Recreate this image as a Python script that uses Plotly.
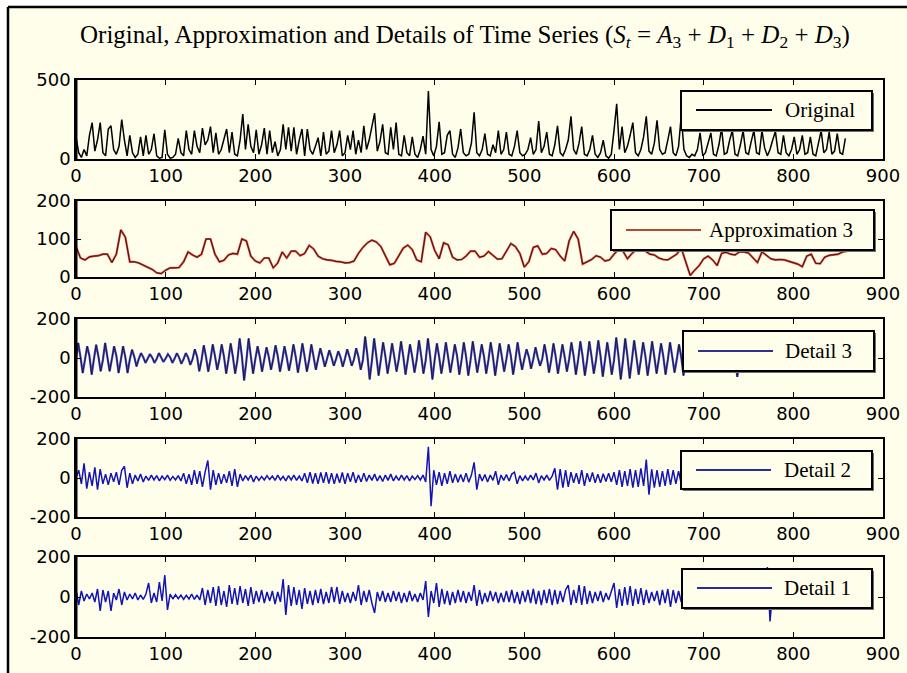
import plotly.graph_objects as go

# ---------------- data ----------------
X_TICKS = [0, 100, 200, 300, 400, 500, 600, 700, 800, 900]
STEP_ORIG = 3
original = [
    140, 40, 10, 60, 20, 150, 230, 50, 120, 230,
    40, 20, 190, 210, 60, 30, 80, 250, 120, 20,
    150, 40, 10, 30, 140, 20, 150, 30, 60, 160,
    20, 5, 10, 185, 30, 5, 10, 30, 130, 40,
    20, 180, 60, 30, 180, 80, 40, 195, 90, 120,
    205, 40, 165, 30, 60, 130, 190, 40, 170, 30,
    20, 120, 285, 60, 220, 80, 40, 185, 30, 90,
    195, 30, 180, 40, 110, 20, 60, 220, 60, 200,
    50, 200, 30, 120, 190, 20, 190, 60, 30, 80,
    135, 20, 170, 30, 50, 180, 40, 90, 180, 20,
    40, 150, 60, 180, 30, 120, 40, 210, 60, 120,
    200, 290, 50, 110, 220, 40, 30, 200, 60, 230,
    30, 20, 150, 40, 20, 140, 30, 10, 60, 145,
    30, 430, 60, 20, 80, 235, 30, 40, 150, 180,
    30, 10, 70, 190, 40, 20, 30, 100, 295, 40,
    20, 60, 160, 30, 20, 90, 40, 180, 30, 60,
    170, 30, 20, 80, 180, 40, 20, 30, 60, 135,
    30, 60, 240, 40, 80, 170, 30, 20, 90, 210,
    40, 20, 60, 120, 270, 60, 30, 100, 205, 30,
    20, 60, 150, 30, 10, 40, 120, 20, 5, 30,
    180, 350, 60, 205, 40, 80, 150, 230, 40, 20,
    60, 140, 270, 50, 30, 100, 245, 60, 30, 40,
    120, 205, 40, 20, 80, 275, 60, 20, 10, 30,
    20, 60, 165, 20, 40, 100, 165, 30, 20, 90,
    195, 30, 40, 120, 180, 30, 20, 90, 180, 40,
    30, 110, 180, 40, 30, 180, 70, 20, 60, 120,
    175, 40, 30, 150, 40, 20, 60, 140, 30, 60,
    150, 30, 40, 140, 30, 20, 90, 180, 40, 60,
    170, 30, 50, 160, 40, 30, 130,
]

STEP_A3 = 5
approx3 = [
    80, 50, 45, 53, 55, 56, 60, 60, 38, 60,
    124, 105, 40, 40, 37, 32, 26, 20, 11, 9,
    18, 24, 24, 25, 40, 66, 58, 52, 60, 100,
    100, 60, 40, 44, 58, 62, 60, 100, 95, 55,
    42, 37, 50, 50, 24, 37, 66, 50, 68, 68,
    56, 62, 83, 74, 55, 48, 45, 44, 41, 40,
    37, 38, 42, 62, 78, 90, 97, 92, 80, 56,
    32, 36, 55, 76, 84, 72, 45, 40, 118, 106,
    70, 48, 90, 85, 52, 45, 46, 55, 68, 68,
    52, 55, 67, 58, 47, 48, 70, 88, 80, 62,
    26, 40, 78, 82, 60, 62, 75, 72, 55, 42,
    95, 120, 100, 34, 40, 46, 56, 52, 42, 45,
    60, 72, 68, 48, 62, 72, 70, 68, 60, 58,
    50, 46, 45, 52, 60, 76, 40, 4, 18, 30,
    48, 55, 45, 30, 62, 65, 60, 58, 66, 66,
    63, 50, 38, 66, 58, 48, 45, 46, 45, 42,
    38, 34, 27, 55, 60, 36, 35, 52, 57, 58,
    60, 66, 68,
]

STEP_D3 = 2.5
detail3 = [
    -10, 77, 5, -77, -8, 60, 10, -85, -5, 68, 8, -68, -10, 77, 5, -68,
    -6, 60, 12, -77, -10, 60, 5, -77, -8, 43, 6, -43, -5, 25, 4, -25,
    -3, 20, 2, -25, -4, 25, 3, -20, -2, 20, 4, -25, -3, 25, 2, -30,
    -5, 25, 3, -35, -6, 45, 8, -68, -10, 65, 6, -70, -8, 70, 10, -60,
    -5, 70, 8, -80, -10, 75, 5, -80, -12, 100, 10, -115, -15, 100, 8, -80,
    -6, 60, 5, -70, -8, 55, 6, -60, -5, 65, 10, -70, -10, 60, 4, -65,
    -6, 70, 8, -75, -8, 75, 6, -70, -10, 70, 5, -60, -5, 50, 6, -45,
    -4, 40, 3, -40, -6, 35, 4, -45, -3, 45, 5, -40, -8, 50, 6, -60,
    -10, 110, 12, -110, -15, 100, 8, -90, -8, 80, 10, -80, -10, 75, 6, -70,
    -6, 85, 8, -85, -10, 70, 5, -75, -8, 90, 10, -80, -12, 100, 8, -110,
    -10, 75, 6, -80, -8, 80, 5, -75, -6, 70, 10, -85, -10, 80, 8, -90,
    -12, 85, 6, -75, -5, 70, 8, -80, -10, 80, 6, -90, -8, 75, 5, -70,
    -6, 70, 10, -85, -10, 80, 4, -60, -5, 45, 6, -55, -6, 55, 3, -40,
    -4, 70, 8, -75, -10, 75, 6, -80, -8, 70, 5, -70, -6, 80, 10, -85,
    -10, 85, 8, -90, -12, 85, 6, -80, -8, 90, 10, -95, -10, 80, 5, -85,
    -12, 105, 10, -110, -15, 100, 8, -105, -10, 90, 6, -85, -8, 80, 10, -90,
    -10, 85, 5, -80, -6, 75, 8, -85, -10, 80, 6, -75, -8, 70, 5, -90,
    -6, 50, 4, -50, -5, 40, 3, -45, -4, 45, 5, -40, -6, 40, 4, -50,
    -3, 30, 2, -35, -5, 40, 6, -97, -8, 35, 4, -40, -4, 40, 3, -45,
    -5, 45, 6, -50, -4, 40, 3, -45, -3, 35, 4, -40, -5, 40, 3, -45,
    -4, 45, 5, -50, -6, 40, 4, -45, -3, 35, 2, -40, -5, 40, 6, -50,
    -6, 45, 5, -68, -4, 30, 3, -30, 0,
]

STEP_D = 3
detail2 = [
    0, 40, -30, 75, -55, 30, -40, 55, -60, 45,
    -30, 20, -35, 25, -20, 30, -35, 40, 60, -50,
    25, -30, 15, -15, 20, -20, 10, -12, 15, -10,
    12, -15, 10, -8, 15, -12, 8, -10, 12, -15,
    25, -30, 20, -35, 40, -30, 35, -45, 30, 90,
    -60, 40, -35, 25, -30, 20, -25, 35, -40, 45,
    -45, 20, -15, 12, -10, 15, -20, 10, -12, 8,
    -10, 12, -8, 10, -12, 15, -10, 8, -15, 12,
    -10, 15, -12, 10, -15, 25, -25, 30, -28, 25,
    -30, 28, -25, 30, -28, 25, -30, 22, -25, 28,
    -30, 25, -20, 30, -25, 15, -20, 25, -18, 15,
    -12, 20, -15, 12, -18, 15, -12, 20, -15, 10,
    -12, 15, -10, 12, -15, 10, -8, 12, -10, 15,
    -20, 160, -145, 40, -35, 30, -40, 25, -30, 35,
    -25, 20, -22, 18, -20, 25, -22, 15, 80, -60,
    20, -15, 18, -20, 15, -12, 35, -35, 15, -12,
    18, -15, 20, 30, -30, 12, -15, 10, -12, 15,
    -10, 25, -25, 12, -10, 15, -12, 10, 50, -60,
    45, -50, 40, -45, 30, -25, 25, -30, 40, -40,
    25, -20, 28, -25, 20, -25, 22, -18, 25, -20,
    30, -35, 40, -45, 35, -40, 45, -50, 40, -45,
    50, -40, 94, -86, 45, -50, 40, -45, 35, -40,
    45, -35, 40, -30, 35, -30, 25, -20, 30, -25,
    20, -25, 15, -20, 25, -15, 20, -18, 15, -20,
    25, -20, 18, -15, 20, -25, 15, -20, 25, -18,
    20, -15, 18, -22, 25, -20, 15, -18, 20, -15,
    18, -20, 25, -15, 20, -18, 15, -20, 18, -15,
    20, -25, 18, -20, 15, -18, 22, -20, 18, -15,
    20, -18, 15, -20, 18, -15, 10,
]

detail1 = [
    40, -40, 30, -20, 15, -10, 20, -25, 40, -70,
    35, -25, 30, -70, 20, -15, 40, -40, 25, -15,
    15, -10, 20, -15, 10, -12, 15, 70, -30, 20,
    -25, 75, -20, 110, -65, 15, -10, 12, -8, 10,
    -12, 8, -10, 15, -12, 10, -15, 45, -40, 35,
    -30, 50, -45, 55, -40, 30, -50, 60, -35, 45,
    -40, 55, -30, 40, -45, 50, -35, 30, -25, 35,
    -30, 25, -20, 30, -35, 25, -25, 90, -90, 60,
    -45, 50, -40, 35, -60, 45, -35, 30, -40, 35,
    -30, 40, -35, 25, -30, 50, -25, 50, -35, 30,
    -25, 20, -30, 25, -20, 60, -40, 30, -25, 35,
    -30, -80, 25, -20, 30, -25, 20, -25, 30, -20,
    25, -30, 20, -25, 30, -20, 15, -25, 20, -15,
    80, -100, 30, -30, 70, -50, 40, -35, 30, -40,
    25, -30, 35, -25, 30, -30, 25, -20, 60, -45,
    35, -35, 20, -25, 30, -20, 25, -30, 20, -25,
    30, -25, 35, -30, 25, -35, 30, -25, 35, -30,
    40, -35, 30, -40, 35, -30, 40, -40, 35, -35,
    30, -25, 35, 60, -40, 35, -30, 60, -40, 55,
    -35, 30, -30, 25, -20, 30, -25, 20, -15, 25,
    70, -55, 40, -45, 50, -40, 55, -45, 40, -35,
    45, -40, 35, -30, 25, -20, 30, -40, 35, -30,
    40, -50, 35, -30, 30, -25, 20, -15, 25, -20,
    30, -25, 20, -30, 25, -20, 30, -25, 20, -25,
    30, -40, 25, -20, 30, -25, 20, -30, 25, -20,
    30, -25, 20, -25, 30, -20, 25, 150, -122, 30,
    -25, 20, -30, 25, -20, 30, -25, 20, -25, 30,
    -20, 25, -30, 20, -25, 30, -20, 25, -60, 30,
    -25, 20, -30, 25, -20, 15, -10,
]

TITLE = ("Original, Approximation and Details of Time Series "
         "(<i>S</i><sub><i>t</i></sub> = <i>A</i><sub>3</sub> + "
         "<i>D</i><sub>1</sub> + <i>D</i><sub>2</sub> + <i>D</i><sub>3</sub>)")
NAMES = ["Original", "Approximation 3", "Detail 3", "Detail 2", "Detail 1"]
Y_RANGES = [[0, 500], [0, 200], [-200, 200], [-200, 200], [-200, 200]]
Y_TICKS = [[0, 500], [0, 100, 200], [-200, 0, 200], [-200, 0, 200], [-200, 0, 200]]
Y_TICKTEXT = [["0", "500"], ["0", "100", "200"], ["-200", "0", "200"],
              ["-200", "0", "200"], ["-200", "0", "200"]]
X_TICKTEXT = [str(v) for v in X_TICKS]

# ---------------- layout geometry ----------------
W, H = 907, 673
L, R, T, B = 76, 24, 80, 36
PW, PH = W - L - R, H - T - B


def px(xp):
    return (xp - L) / PW


def py(yp):
    return (H - B - yp) / PH


PANELS = [(80, 159), (201, 277), (319, 397), (439, 517), (557, 637)]
LEG = [  # box x0,x1,y0,y1 ; line x0,x1,y ; text x
    (681, 872, 91, 130, 696, 772, 110, 783),
    (611, 874, 210, 250, 626, 701, 230, 707),
    (683, 874, 331, 371, 698, 773, 351, 783),
    (681, 872, 451, 489, 696, 771, 470, 782),
    (682, 872, 569, 608, 697, 772, 588, 782),
]
CREAM = "#fffeea"
LEG_COLORS = ["#000000", "#b04a3a", "#30308f", "#2a2aa0", "#2a2aa0"]

fig = go.Figure()


def xs(n, step):
    return [i * step for i in range(n)]


# panel 1
fig.add_trace(go.Scatter(x=xs(len(original), STEP_ORIG), y=original, mode="lines",
                         line=dict(color="black", width=1.5), xaxis="x", yaxis="y",
                         name=NAMES[0], showlegend=False))
# panel 2
fig.add_trace(go.Scatter(x=xs(len(approx3), STEP_A3), y=approx3, mode="lines",
                         line=dict(color="#e04a3a", width=2.2), xaxis="x2", yaxis="y2",
                         name=NAMES[1], showlegend=False, hoverinfo="skip"))
fig.add_trace(go.Scatter(x=xs(len(approx3), STEP_A3), y=approx3, mode="lines",
                         line=dict(color="#2a1010", width=0.9), xaxis="x2", yaxis="y2",
                         name=NAMES[1], showlegend=False))
# panel 3
fig.add_trace(go.Scatter(x=xs(len(detail3), STEP_D3), y=detail3, mode="lines",
                         line=dict(color="#4a4ad0", width=2.2), xaxis="x3", yaxis="y3",
                         name=NAMES[2], showlegend=False, hoverinfo="skip"))
fig.add_trace(go.Scatter(x=xs(len(detail3), STEP_D3), y=detail3, mode="lines",
                         line=dict(color="#141430", width=0.9), xaxis="x3", yaxis="y3",
                         name=NAMES[2], showlegend=False))
# panel 4, 5
fig.add_trace(go.Scatter(x=xs(len(detail2), STEP_D), y=detail2, mode="lines",
                         line=dict(color="#1414b4", width=1.5), xaxis="x4", yaxis="y4",
                         name=NAMES[3], showlegend=False))
fig.add_trace(go.Scatter(x=xs(len(detail1), STEP_D), y=detail1, mode="lines",
                         line=dict(color="#1414b4", width=1.5), xaxis="x5", yaxis="y5",
                         name=NAMES[4], showlegend=False))

font_ticks = dict(family="DejaVu Sans", size=18, color="black")
layout = dict(
    width=W, height=H, margin=dict(l=L, r=R, t=T, b=B, pad=0),
    paper_bgcolor="white", plot_bgcolor="rgba(0,0,0,0)",
    showlegend=False,
)
shapes = [
    dict(type="rect", xref="paper", yref="paper", x0=px(8), x1=px(W + 5),
         y0=py(7), y1=py(H + 5), fillcolor=CREAM, line=dict(width=0), layer="below"),
    dict(type="line", xref="paper", yref="paper", x0=px(8), x1=px(8),
         y0=py(7), y1=py(H + 5), line=dict(color="black", width=2.5), layer="below"),
    dict(type="line", xref="paper", yref="paper", x0=px(8), x1=px(W + 5),
         y0=py(7), y1=py(7), line=dict(color="black", width=2.5), layer="below"),
]
annotations = [dict(text=TITLE, xref="paper", yref="paper", x=px(465), y=py(36),
                    showarrow=False, xanchor="center", yanchor="middle",
                    font=dict(family="Liberation Serif", size=25, color="black"))]

for i in range(5):
    sfx = "" if i == 0 else str(i + 1)
    top, bot = PANELS[i]
    layout["xaxis" + sfx] = dict(
        domain=[0, 1], range=[0, 900], tickvals=X_TICKS, ticktext=X_TICKTEXT,
        ticks="inside", ticklen=5,
        tickcolor="black", showline=True, linecolor="black", linewidth=1.5,
        mirror="ticks", showgrid=False, zeroline=False, tickfont=font_ticks,
        anchor="y" + sfx, automargin=False, fixedrange=True)
    layout["yaxis" + sfx] = dict(
        domain=[py(bot), py(top)], range=Y_RANGES[i], tickvals=Y_TICKS[i],
        ticktext=Y_TICKTEXT[i],
        ticks="inside", ticklen=5, tickcolor="black", showline=True,
        linecolor="black", linewidth=1.5, mirror="ticks", showgrid=False,
        zeroline=False, tickfont=font_ticks, anchor="x" + sfx, automargin=False,
        fixedrange=True)
    # thick left spine
    shapes.append(dict(type="line", xref="paper", yref="paper", x0=0, x1=0,
                       y0=py(bot), y1=py(top), line=dict(color="black", width=3),
                       layer="above"))
    bx0, bx1, by0, by1, lx0, lx1, ly, tx = LEG[i]
    shapes.append(dict(type="rect", xref="paper", yref="paper", x0=px(bx0 + 2),
                       x1=px(bx1 + 2), y0=py(by0 + 2), y1=py(by1 + 2),
                       fillcolor="#707070", line=dict(width=0), layer="above"))
    shapes.append(dict(type="rect", xref="paper", yref="paper", x0=px(bx0),
                       x1=px(bx1), y0=py(by0), y1=py(by1), fillcolor=CREAM,
                       line=dict(color="black", width=2), layer="above"))
    shapes.append(dict(type="line", xref="paper", yref="paper", x0=px(lx0),
                       x1=px(lx1), y0=py(ly), y1=py(ly),
                       line=dict(color=LEG_COLORS[i], width=2), layer="above"))
    annotations.append(dict(text=NAMES[i], xref="paper", yref="paper", x=px(tx),
                            y=py(ly), xanchor="left", yanchor="middle",
                            showarrow=False,
                            font=dict(family="Liberation Serif", size=21,
                                      color="black")))

layout["shapes"] = shapes
layout["annotations"] = annotations
fig.update_layout(**layout)
fig.write_html("out.html")
